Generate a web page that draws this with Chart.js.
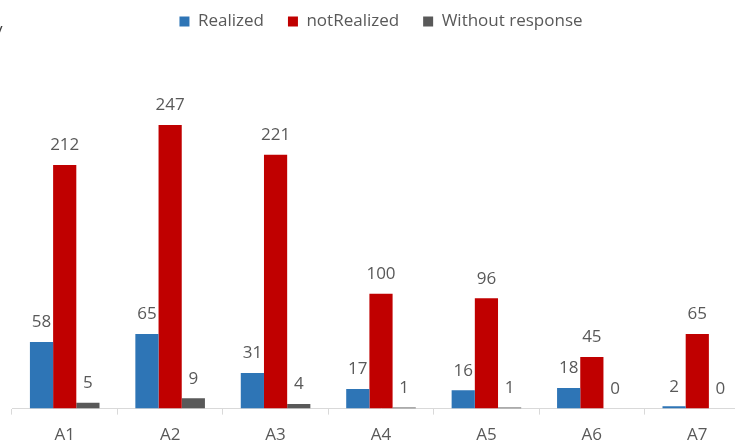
<!DOCTYPE html>
<html>
<head>
<meta charset="utf-8">
<script src="https://cdn.jsdelivr.net/npm/chart.js@4"></script>
<style>
  html, body { margin: 0; padding: 0; overflow: hidden; background: #fff; }
  #wrap { position: relative; width: 735px; height: 441px; overflow: hidden; }
  #stub { position: absolute; left: -6px; top: 17px; font: 17px "Open Sans", sans-serif; color: #404040; }
  canvas { position: absolute; left: 0; top: 0; }
</style>
</head>
<body>
<div id="wrap">
  <canvas id="statsChart" width="760" height="455"></canvas>
  <span id="stub">y</span>
</div>
<script>
const categories = ['A1', 'A2', 'A3', 'A4', 'A5', 'A6', 'A7'];
const realized = [58, 65, 31, 17, 16, 18, 2];
const notRealized = [212, 247, 221, 100, 96, 45, 65];
const withoutResponse = [5, 9, 4, 1, 1, 0, 0];

const textColor = '#595959';
const fontFamily = '"Open Sans", sans-serif';

// value labels above each bar
const barLabels = {
  id: 'barLabels',
  afterDatasetsDraw(chart) {
    const ctx = chart.ctx;
    ctx.save();
    ctx.font = '17px ' + fontFamily;
    ctx.fillStyle = textColor;
    ctx.textAlign = 'center';
    ctx.textBaseline = 'bottom';
    chart.data.datasets.forEach((ds, i) => {
      chart.getDatasetMeta(i).data.forEach((bar, j) => {
        ctx.fillText(ds.data[j], bar.x, bar.y - 11);
      });
    });
    ctx.restore();
  }
};

// extra room under the legend
const legendGap = {
  id: 'legendGap',
  beforeInit(chart) {
    const fit = chart.legend.fit;
    chart.legend.fit = function () {
      fit.bind(chart.legend)();
      this.height += 24;
    };
  }
};

const ctx = document.getElementById('statsChart').getContext('2d');

new Chart(ctx, {
  type: 'bar',
  data: {
    labels: categories,
    datasets: [
      { label: 'Realized', data: realized, backgroundColor: '#2E75B6' },
      { label: 'notRealized', data: notRealized, backgroundColor: '#C00000' },
      { label: 'Without response', data: withoutResponse, backgroundColor: '#595959' }
    ]
  },
  options: {
    responsive: false,
    animation: false,
    layout: { padding: { left: 12, right: 10, top: -11, bottom: 0 } },
    datasets: {
      bar: { barPercentage: 1, categoryPercentage: 0.66 }
    },
    plugins: {
      legend: {
        position: 'top',
        labels: {
          boxWidth: 10,
          boxHeight: 10,
          padding: 24,
          color: textColor,
          font: { family: fontFamily, size: 17 }
        }
      },
      tooltip: { enabled: false }
    },
    scales: {
      x: {
        grid: {
          offset: true,
          drawOnChartArea: false,
          tickLength: 6,
          color: '#d9d9d9'
        },
        border: { color: '#d9d9d9' },
        ticks: {
          color: textColor,
          padding: 10,
          font: { family: fontFamily, size: 17 }
        }
      },
      y: {
        display: false,
        beginAtZero: true,
        min: 0,
        max: 300
      }
    }
  },
  plugins: [barLabels, legendGap]
});
</script>
</body>
</html>
